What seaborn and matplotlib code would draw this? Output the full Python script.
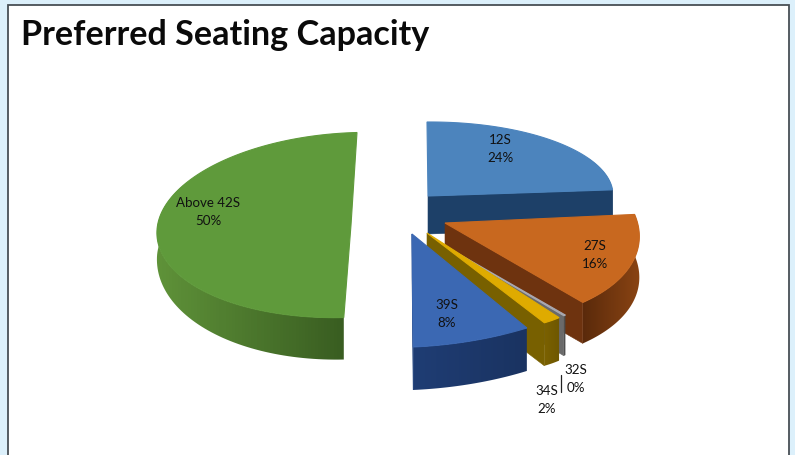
import matplotlib
matplotlib.use("Agg")
import matplotlib.pyplot as plt
from matplotlib.patches import Polygon, Rectangle
import numpy as np
import seaborn as sns

# values (32S is a sliver that rounds to 0%)
categories = ["12S", "27S", "32S", "34S", "39S", "Above 42S"]
shares = [24, 16, 0.2, 2, 8, 50]
percent_labels = ["24%", "16%", "0%", "2%", "8%", "50%"]

title = "Preferred Seating Capacity"

top_colors = ["#4c84bd", "#c8681f", "#a8a8b0", "#dfab00", "#3b68b3", "#5f9a3b"]
# rim shading, left colour to right colour
rim_colors = [("#1b3c63", "#1b3c63"), ("#5a2a0b", "#8a4413"), ("#4a4a4a", "#4a4a4a"),
              ("#7c6200", "#6e5700"), ("#1f3d74", "#1a3361"), ("#5f9239", "#36591f")]
cut_colors = ["#1d4068", "#6e330f", "#6a6a6a", "#786000", "#24457f", None]

# projection of each exploded slice: apex x, apex y, then the 2x2 squash/shear, depth, taper
projection = {
    "12S": (428, 196, 185, 1, -1.3, 74, 38, 1.0),
    "27S": (445, 223, 192, 30, -2, 100, 41, 1.0),
    "32S": (432, 238.5, 175, 37, 0, 95, 40, 1.0),
    "34S": (427, 233, 165.5, 44, 11.4, 95.9, 43, 1.0),
    "39S": (412, 234, 236.6, 2.7, -11.3, 112.9, 43, 1.0),
    "Above 42S": (351, 225, 194, -6, -5, 92.5, 42, 0.62),
}
label_pos = {
    "12S": (500, 149), "27S": (595, 255), "32S": (576, 379),
    "34S": (547, 400), "39S": (447, 314), "Above 42S": (208, 212),
}
draw_order = ["12S", "Above 42S", "27S", "32S", "34S", "39S"]

sns.set_theme(style="white")
plt.rcParams["font.family"] = ["Lato", "DejaVu Sans"]

fig = plt.figure(figsize=(7.95, 4.55), dpi=100, facecolor="#dcf0fb")
ax = fig.add_axes([0, 0, 1, 1])
ax.axis("off")

ax.add_patch(Rectangle((7.5, 4.5), 781.5, 470, facecolor="white", edgecolor="#484f55", lw=1.3, zorder=1))
ax.text(21, 45, title, fontsize=24.6, fontweight="bold", color="#0a0a0a", va="baseline", ha="left", zorder=50)

edges = np.concatenate([[0], np.cumsum(shares)]) / np.sum(shares) * 2 * np.pi


def project(name, theta):
    x0, y0, a, b, c, d, _, _ = projection[name]
    u, v = np.sin(theta), -np.cos(theta)
    return x0 + a * u + b * v, y0 + c * u + d * v


z = 5
for name in draw_order:
    i = categories.index(name)
    x0, y0, *_, depth, taper = projection[name]
    t = np.linspace(edges[i], edges[i + 1], 120)
    xs, ys = project(name, t)
    drop = depth * (taper + (1 - taper) * np.clip(-np.cos(t), 0, 1))

    # outer rim, smooth shade clipped to the rim outline (back part stays hidden)
    front = -np.cos(t) > -0.5
    rim = Polygon(np.r_[np.c_[xs, ys][front], np.c_[xs, ys + drop][front][::-1]],
                  facecolor="none", edgecolor="none")
    ax.add_patch(rim)
    cmap = sns.blend_palette(rim_colors[i], as_cmap=True)
    im = ax.imshow(np.linspace(0, 1, 64)[None, :], cmap=cmap, aspect="auto", zorder=z,
                   extent=(xs.min() - 1, xs.max() + 1, (ys + drop).max() + 1, ys.min() - 1))
    im.set_clip_path(rim)
    z += 1
    # cut face along the lower edge
    if cut_colors[i] is not None:
        ax.add_patch(Polygon([(x0, y0), (xs[-1], ys[-1]), (xs[-1], ys[-1] + drop[-1]), (x0, y0 + drop[-1])],
                             facecolor=cut_colors[i], edgecolor=cut_colors[i], lw=0.4, zorder=z))
    z += 1
    # top face
    ax.add_patch(Polygon(np.r_[[[x0, y0]], np.c_[xs, ys]], facecolor=top_colors[i],
                         edgecolor=top_colors[i], lw=0.8, zorder=z))
    z += 1

for name, pct in zip(categories, percent_labels):
    x, y = label_pos[name]
    ax.text(x, y, f"{name}\n{pct}", fontsize=9.6, color="#111111", ha="center", va="center",
            linespacing=1.6, zorder=60)

# leader line of the 32S label
ax.plot([561, 561], [375, 392], color="#222222", lw=0.9, zorder=60)

ax.set_xlim(0, 795)
ax.set_ylim(455, 0)

fig.savefig("out.png", dpi=100, facecolor=fig.get_facecolor())
